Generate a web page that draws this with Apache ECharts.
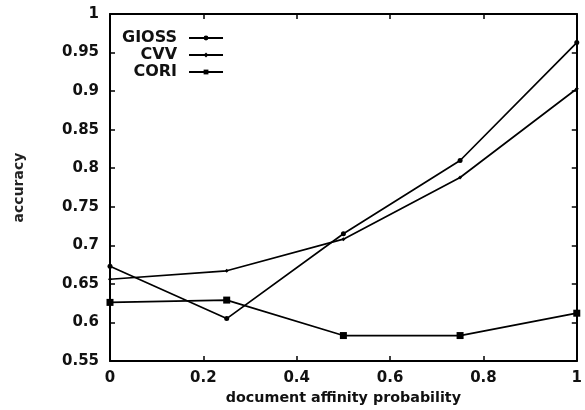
<!DOCTYPE html>
<html>
<head>
<meta charset="utf-8">
<script src="https://cdn.jsdelivr.net/npm/echarts@6/dist/echarts.min.js"></script>
<style>
html,body{margin:0;padding:0;background:#fff;}
#chart{width:585px;height:410px;}
</style>
</head>
<body>
<div id="chart"></div>
<script>
const xValues = [0, 0.25, 0.5, 0.75, 1];
const giossValues = [0.673, 0.605, 0.715, 0.810, 0.963];
const cvvValues = [0.656, 0.667, 0.708, 0.788, 0.903];
const coriValues = [0.626, 0.629, 0.583, 0.583, 0.612];
const seriesNames = ['GIOSS', 'CVV', 'CORI'];
const xAxisTitle = 'document affinity probability';
const yAxisTitle = 'accuracy';

function pairs(vals) { return xValues.map((x, i) => [x, vals[i]]); }

const font = 'DejaVu Sans';
const ink = '#000';

const axisCommon = {
  axisLine: { show: true, onZero: false, lineStyle: { color: ink, width: 2 } },
  axisTick: { show: true, inside: true, length: 5, lineStyle: { color: ink, width: 1.5 } },
  splitLine: { show: false }
};

const chart = echarts.init(document.getElementById('chart'), null, { renderer: 'canvas' });
chart.setOption({
  backgroundColor: '#fff',
  animation: false,
  grid: { left: 110, right: 3, top: 14, bottom: 46, containLabel: false },
  legend: {
    data: seriesNames,
    orient: 'vertical',
    align: 'right',
    left: 122,
    top: 30,
    padding: 0,
    itemWidth: 34,
    itemHeight: 6,
    itemGap: 1,
    textStyle: { fontFamily: font, fontWeight: 'bold', fontSize: 16, color: '#111', padding: [0, 7, 0, 0] }
  },
  xAxis: [
    Object.assign({}, axisCommon, {
      type: 'value', min: 0, max: 1, interval: 0.2, position: 'bottom',
      name: xAxisTitle, nameLocation: 'middle', nameGap: 30,
      nameTextStyle: { fontFamily: font, fontWeight: 'bold', fontSize: 14.3, color: '#111' },
      axisLabel: { margin: 10, fontFamily: font, fontWeight: 'bold', fontSize: 15, color: '#111' }
    }),
    Object.assign({}, axisCommon, {
      type: 'value', min: 0, max: 1, interval: 0.2, position: 'top',
      axisLabel: { show: false }
    })
  ],
  yAxis: [
    Object.assign({}, axisCommon, {
      type: 'value', min: 0.55, max: 1, interval: 0.05, position: 'left',
      name: yAxisTitle, nameLocation: 'middle', nameGap: 84, nameRotate: 90,
      nameTextStyle: { fontFamily: font, fontWeight: 'bold', fontSize: 14, color: '#222' },
      axisLabel: { margin: 11, fontFamily: font, fontWeight: 'bold', fontSize: 15, color: '#111' }
    }),
    Object.assign({}, axisCommon, {
      type: 'value', min: 0.55, max: 1, interval: 0.05, position: 'right',
      axisLabel: { show: false }
    })
  ],
  series: [
    {
      name: seriesNames[0], type: 'line', data: pairs(giossValues),
      symbol: 'circle', symbolSize: 5, showAllSymbol: true,
      lineStyle: { color: ink, width: 1.7 }, itemStyle: { color: ink }
    },
    {
      name: seriesNames[1], type: 'line', data: pairs(cvvValues),
      symbol: 'diamond', symbolSize: 4, showAllSymbol: true,
      lineStyle: { color: ink, width: 1.7 }, itemStyle: { color: ink }
    },
    {
      name: seriesNames[2], type: 'line', data: pairs(coriValues),
      symbol: 'rect', symbolSize: 7, showAllSymbol: true,
      lineStyle: { color: ink, width: 1.7 }, itemStyle: { color: ink }
    }
  ]
});
</script>
</body>
</html>
